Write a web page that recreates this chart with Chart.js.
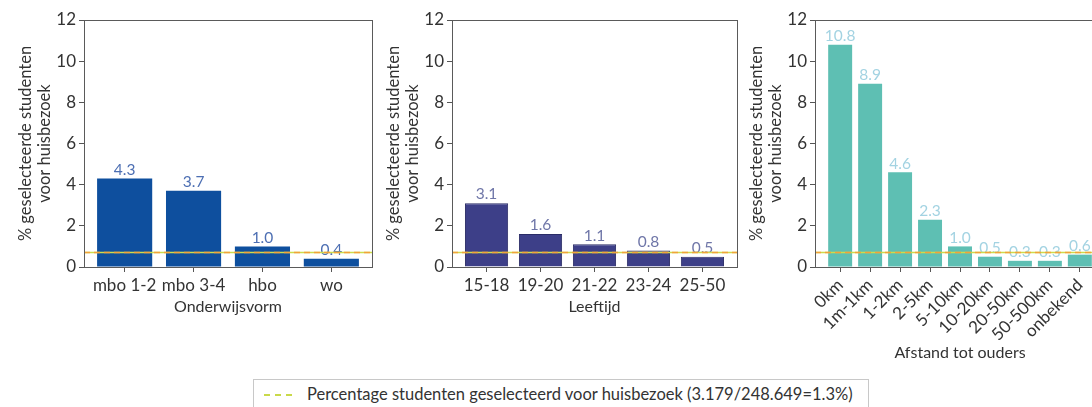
<!DOCTYPE html>
<html>
<head>
<meta charset="utf-8">
<script src="https://cdn.jsdelivr.net/npm/chart.js@4/dist/chart.umd.min.js"></script>
<style>
html, body { margin: 0; padding: 0; background: #fff; overflow: hidden; width: 1092px; height: 407px; font-family: Lato, sans-serif; }
.box { position: absolute; top: 0; }
#legend { position: absolute; left: 253px; top: 379px; width: 616px; height: 40px; border: 1px solid #c8c8c8; box-sizing: border-box; color: #333; font-size: 16.5px; }
#legend .swatch { position: absolute; left: 10px; top: 14px; width: 28px; border-top: 2px dashed #c9d94a; }
#legend .txt { position: absolute; left: 53px; top: 4px; white-space: nowrap; }
</style>
</head>
<body>
<div class="box" style="left:0px"><canvas id="c1" width="380" height="330"></canvas></div>
<div class="box" style="left:368px"><canvas id="c2" width="380" height="330"></canvas></div>
<div class="box" style="left:731px"><canvas id="c3" width="380" height="370"></canvas></div>
<div id="legend"><span class="swatch"></span><span class="txt" id="legendText"></span></div>

<script>
// data
const eduLabels = ['mbo 1-2', 'mbo 3-4', 'hbo', 'wo'];
const eduValues = [4.3, 3.7, 1.0, 0.4];

const ageLabels = ['15-18', '19-20', '21-22', '23-24', '25-50'];
const ageValues = [3.1, 1.6, 1.1, 0.8, 0.5];

const distLabels = ['0km', '1m-1km', '1-2km', '2-5km', '5-10km', '10-20km', '20-50km', '50-500km', 'onbekend'];
const distValues = [10.8, 8.9, 4.6, 2.3, 1.0, 0.5, 0.3, 0.3, 0.6];

const yTicks = [0, 2, 4, 6, 8, 10, 12];
const refLevel = 0.75;
const yTitle = ['% geselecteerde studenten', 'voor huisbezoek'];
const legendText = 'Percentage studenten geselecteerd voor huisbezoek (3.179/248.649=1.3%)';

document.getElementById('legendText').textContent = legendText;

// reference line, value labels and box frame
const extrasPlugin = {
    id: 'extras',
    afterDatasetsDraw(chart, args, opts) {
        const { ctx, chartArea: a, scales: { y } } = chart;
        const meta = chart.getDatasetMeta(0);
        const data = chart.data.datasets[0].data;
        ctx.save();

        ctx.font = '15.5px Lato';
        ctx.fillStyle = opts.labelColor;
        ctx.textAlign = 'center';
        ctx.textBaseline = 'bottom';
        meta.data.forEach((bar, i) => {
            ctx.fillText(data[i].y.toFixed(1), bar.x, bar.y - 1);
        });

        const ly = Math.round(y.getPixelForValue(refLevel)) + 0.5;
        ctx.lineWidth = 1.5;
        ctx.strokeStyle = '#cfdc4a';
        ctx.beginPath(); ctx.moveTo(a.left, ly); ctx.lineTo(a.right, ly); ctx.stroke();
        ctx.setLineDash([6, 4]);
        ctx.strokeStyle = '#f2a23a';
        ctx.beginPath(); ctx.moveTo(a.left, ly); ctx.lineTo(a.right, ly); ctx.stroke();

        ctx.setLineDash([]);
        ctx.lineWidth = 1;
        ctx.strokeStyle = '#5a5a5a';
        ctx.strokeRect(Math.round(a.left) + 0.5, Math.round(a.top) + 0.5, Math.round(a.width), Math.round(a.height));
        ctx.restore();
    }
};

function makeChart(id, labels, values, cfg) {
    const n = labels.length;
    const margin = 0.05 * (n - 0.2);
    return new Chart(document.getElementById(id), {
        type: 'bar',
        data: {
            datasets: [{
                data: values.map((v, i) => ({ x: i, y: v })),
                backgroundColor: cfg.color,
                borderColor: cfg.border,
                borderWidth: cfg.borderWidth,
                barPercentage: 0.8,
                categoryPercentage: 1
            }]
        },
        options: {
            responsive: false,
            animation: false,
            layout: { padding: { top: 20, right: cfg.padRight, left: 0, bottom: 0 } },
            plugins: {
                legend: { display: false },
                tooltip: { enabled: false },
                extras: { labelColor: cfg.labelColor }
            },
            scales: {
                x: {
                    type: 'linear',
                    offset: false,
                    min: -0.4 - margin,
                    max: n - 0.6 + margin,
                    afterBuildTicks: s => { s.ticks = labels.map((l, i) => ({ value: i })); },
                    afterFit: s => { s.height = cfg.xHeight; },
                    ticks: {
                        callback: v => labels[v],
                        autoSkip: false,
                        minRotation: cfg.rotate,
                        maxRotation: cfg.rotate,
                        font: { family: 'Lato', size: 17 },
                        color: '#333',
                        padding: 3
                    },
                    grid: { offset: false, drawOnChartArea: false, tickLength: 5, color: '#555' },
                    border: { display: false },
                    title: {
                        display: true,
                        text: cfg.xTitle,
                        font: { family: 'Lato', size: 16, lineHeight: 1.2 },
                        color: '#333',
                        padding: { top: 0, bottom: cfg.titlePad }
                    }
                },
                y: {
                    min: 0,
                    max: 12,
                    afterBuildTicks: s => { s.ticks = yTicks.map(v => ({ value: v })); },
                    afterFit: s => { s.width = 84; },
                    ticks: { font: { family: 'Lato', size: 17 }, color: '#333', padding: 3 },
                    grid: { drawOnChartArea: false, tickLength: 5, color: '#555' },
                    border: { display: false },
                    title: {
                        display: true,
                        text: yTitle,
                        font: { family: 'Lato', size: 16.5, lineHeight: 1.1 },
                        color: '#333',
                        padding: { top: 17, bottom: 0 }
                    }
                }
            }
        },
        plugins: [extrasPlugin]
    });
}

makeChart('c1', eduLabels, eduValues, {
    color: '#0e4f9e', border: '#0e4f9e', borderWidth: 0, labelColor: '#4d6fb3',
    padRight: 8, xHeight: 63, titlePad: 14, rotate: 0, xTitle: 'Onderwijsvorm'
});
makeChart('c2', ageLabels, ageValues, {
    color: '#3d3f88', border: '#2a2c66', borderWidth: 1, labelColor: '#6f76a8',
    padRight: 11, xHeight: 63, titlePad: 14, rotate: 0, xTitle: 'Leeftijd'
});
makeChart('c3', distLabels, distValues, {
    color: '#5ebfb3', border: '#5ebfb3', borderWidth: 0, labelColor: '#a3d3e2',
    padRight: 6, xHeight: 103, titlePad: 8, rotate: 45, xTitle: 'Afstand tot ouders'
});
</script>
</body>
</html>
